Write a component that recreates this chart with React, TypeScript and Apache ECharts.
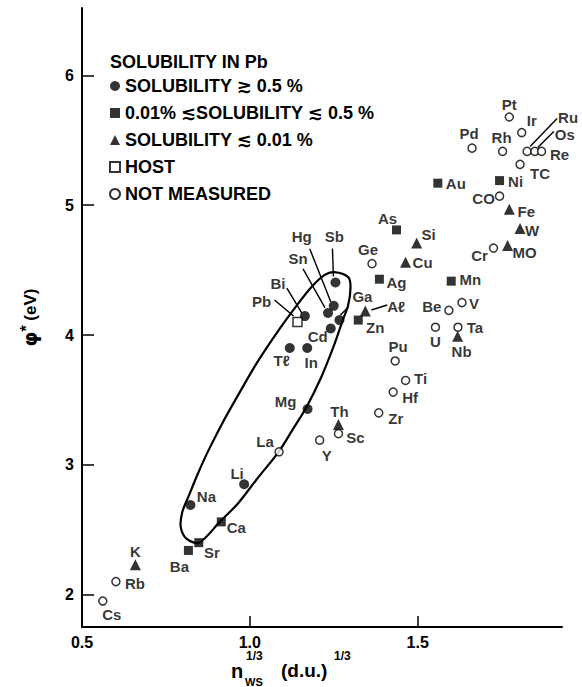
import React, { useEffect, useRef } from "react";
import * as echarts from "echarts";

const FONT = "'Liberation Sans', 'DejaVu Sans', Arial, sans-serif";

// Series names (legend)
const SERIES_NAMES = [
  "SOLUBILITY ≳ 0.5 %",
  "0.01% ≲SOLUBILITY ≲ 0.5 %",
  "SOLUBILITY ≲ 0.01 %",
  "HOST",
  "NOT MEASURED",
];

// Solubility >= 0.5 %  (filled circles)
const HIGH_NAMES = ["Na", "Li", "Mg", "Tℓ", "In", "Cd", "Sn", "Hg", "Sb", "Bi", "Ga"];
const HIGH_X = [0.823, 0.983, 1.172, 1.119, 1.171, 1.241, 1.233, 1.25, 1.255, 1.164, 1.267];
const HIGH_Y = [2.69, 2.85, 3.43, 3.9, 3.9, 4.05, 4.17, 4.225, 4.405, 4.146, 4.115];

// 0.01 % <= solubility <= 0.5 % (filled squares)
const MID_NAMES = ["Ba", "Sr", "Ca", "Zn", "Ag", "As", "Au", "Mn", "Ni"];
const MID_X = [0.817, 0.848, 0.915, 1.323, 1.386, 1.437, 1.56, 1.6, 1.744];
const MID_Y = [2.34, 2.4, 2.56, 4.115, 4.43, 4.81, 5.17, 4.415, 5.19];

// Solubility <= 0.01 % (filled triangles)
const LOW_NAMES = ["K", "Th", "Aℓ", "Cu", "Si", "Nb", "Fe", "W", "MO"];
const LOW_X = [0.659, 1.264, 1.344, 1.464, 1.497, 1.619, 1.773, 1.805, 1.768];
const LOW_Y = [2.23, 3.31, 4.185, 4.56, 4.71, 3.99, 4.97, 4.82, 4.69];

// Host (open square)
const HOST_NAMES = ["Pb"];
const HOST_X = [1.142];
const HOST_Y = [4.1];

// Not measured (open circles)
const NM_NAMES = [
  "Cs", "Rb", "La", "Y", "Sc", "Zr", "Hf", "Ti", "Pu", "U", "Ta", "Be", "V", "Cr",
  "CO", "Ge", "TC", "Pd", "Rh", "Ru", "Os", "Re", "Ir", "Pt",
];
const NM_X = [
  0.562, 0.601, 1.087, 1.208, 1.264, 1.384, 1.427, 1.464, 1.433, 1.553, 1.62, 1.593, 1.632, 1.726,
  1.744, 1.364, 1.805, 1.662, 1.753, 1.826, 1.849, 1.869, 1.81, 1.773,
];
const NM_Y = [
  1.95, 2.1, 3.1, 3.19, 3.24, 3.4, 3.56, 3.65, 3.8, 4.06, 4.06, 4.19, 4.25, 4.67,
  5.07, 4.55, 5.315, 5.44, 5.415, 5.415, 5.415, 5.415, 5.56, 5.68,
];

// Axis ticks
const X_TICKS = [1.0, 1.5];
const X_LABELS = [0.5, 1.0, 1.5];
const Y_TICKS = [2, 3, 4, 5, 6];

// Enclosing curve (annotation, in data units)
const OUTLINE_X = [
  1.2515, 1.293, 1.3, 1.293, 1.277, 1.249, 1.213, 1.169, 1.127, 1.086, 1.024, 0.964, 0.911,
  0.849, 0.811, 0.794, 0.799, 0.818, 0.84, 0.862, 0.882, 0.917, 0.962, 1.021, 1.086, 1.145,
  1.183, 1.222,
];
const OUTLINE_Y = [
  4.485, 4.446, 4.369, 4.231, 4.115, 3.908, 3.677, 3.446, 3.269, 3.1, 2.9, 2.7, 2.562,
  2.4, 2.431, 2.523, 2.638, 2.76, 2.9, 3.03, 3.138, 3.315, 3.523, 3.785, 4.038, 4.246,
  4.369, 4.462,
];

// Label offsets (pixels, label centre relative to marker) - style only
const LABEL_OFFSET: Record<string, [number, number]> = {
  Cs: [9, 13], Rb: [19, 2], K: [0, -13], Ba: [-9, 16], Sr: [13, 10], Ca: [15, 6],
  Na: [16, -9], Li: [-7, -11], La: [-14, -10], Mg: [-22, -7], Y: [7, 15], Th: [1, -13],
  Sc: [17, 4], Zr: [17, 6], Hf: [17, 5], Ti: [15, -2], Pu: [3, -14], U: [0, 14],
  Ta: [17, 0], Nb: [4, 15], Be: [-17, -4], V: [12, 1], Mn: [19, -2], Cr: [-14, 7],
  MO: [17, 7], W: [12, 2], Fe: [17, 2], CO: [-16, 2], Ni: [16, 1], Au: [18, 0],
  TC: [20, 9], Pd: [-3, -15], Rh: [-1, -14], Ir: [10, -12], Pt: [0, -13], Ru: [41, -34],
  Os: [30, -17], Re: [18, 3], As: [-9, -11], Si: [12, -8], Cu: [17, 0], Ge: [-4, -14],
  Ag: [17, 3], "Aℓ": [31, -5], Zn: [17, 7], Ga: [23, -24], Cd: [-13, 8], "Tℓ": [-8, 13],
  In: [4, 15], Pb: [-36, -21], Bi: [-27, -33], Sn: [-30, -54], Hg: [-32, -69], Sb: [-1, -46],
};

// Leader lines (pixel offsets from marker: start x, start y, end x, end y) - style only
const LEADERS: Record<string, [number, number, number, number]> = {
  Pb: [-4, -6, -23, -22],
  Bi: [-3, -3, -18, -28],
  Sn: [-3, -5, -25, -44],
  Hg: [-3, -4, -24, -57],
  Sb: [-2, -6, -3, -34],
  Ga: [1, -5, 9, -13],
  "Aℓ": [6, -1, 22, -6],
  Ru: [3, -5, 30, -33],
  Os: [3, -4, 19, -20],
};

function buildPoints(names: string[], xs: number[], ys: number[]) {
  return names.map((n, i) => ({
    name: n,
    value: [xs[i], ys[i]],
    label: { offset: LABEL_OFFSET[n] || [0, -12] },
  }));
}

export default function App() {
  const ref = useRef<HTMLDivElement>(null);

  useEffect(() => {
    if (!ref.current) return;
    const chart = echarts.init(ref.current, undefined, { renderer: "svg" });

    const all: Record<string, [number, number]> = {};
    const groups: [string[], number[], number[]][] = [
      [HIGH_NAMES, HIGH_X, HIGH_Y],
      [MID_NAMES, MID_X, MID_Y],
      [LOW_NAMES, LOW_X, LOW_Y],
      [HOST_NAMES, HOST_X, HOST_Y],
      [NM_NAMES, NM_X, NM_Y],
    ];
    groups.forEach(([n, xs, ys]) => n.forEach((nm, i) => (all[nm] = [xs[i], ys[i]])));
    const leaderNames = Object.keys(LEADERS);

    const labelStyle = {
      show: true,
      position: "inside",
      formatter: "{b}",
      color: "#000",
      fontSize: 15,
      fontWeight: "bold",
      fontFamily: FONT,
      textBorderWidth: 0,
    };

    const filled = { color: "#000" };
    const open = { color: "#fff", borderColor: "#000", borderWidth: 1.5 };

    const option: any = {
      animation: false,
      backgroundColor: "#fff",
      title: {
        text: "SOLUBILITY IN Pb",
        left: 110,
        top: 53,
        padding: 0,
        textStyle: { fontSize: 18, fontWeight: "bold", fontFamily: FONT, color: "#000" },
      },
      legend: {
        orient: "vertical",
        left: 109,
        top: 77,
        padding: 0,
        itemWidth: 10,
        itemHeight: 10,
        itemGap: 9,
        data: SERIES_NAMES,
        textStyle: { fontSize: 18, fontWeight: "bold", fontFamily: FONT, color: "#000" },
      },
      grid: { left: 82, right: 20, top: 8, bottom: 60, containLabel: false },
      xAxis: {
        type: "value",
        min: 0.5,
        max: 1.93,
        splitLine: { show: false },
        axisLine: { show: true, lineStyle: { color: "#000", width: 2 } },
        axisTick: {
          show: true,
          inside: true,
          length: 11,
          customValues: X_TICKS,
          lineStyle: { color: "#000", width: 1.5 },
        },
        axisLabel: {
          customValues: X_LABELS,
          formatter: (v: number) => v.toFixed(1),
          fontSize: 16,
          fontWeight: "bold",
          fontFamily: FONT,
          color: "#000",
          margin: 7,
        },
      },
      yAxis: {
        type: "value",
        min: 1.75,
        max: 6.52,
        splitLine: { show: false },
        axisLine: { show: true, lineStyle: { color: "#000", width: 2 } },
        axisTick: {
          show: true,
          inside: true,
          length: 12,
          customValues: Y_TICKS,
          lineStyle: { color: "#000", width: 1.5 },
        },
        axisLabel: {
          customValues: Y_TICKS,
          formatter: (v: number) => String(v),
          fontSize: 16,
          fontWeight: "bold",
          fontFamily: FONT,
          color: "#000",
          margin: 8,
        },
        name: "{a|φ}{b|*} (eV)",
        nameLocation: "middle",
        nameGap: 40,
        nameTextStyle: {
          fontSize: 17,
          fontWeight: "bold",
          fontFamily: FONT,
          color: "#000",
          rich: {
            a: { fontSize: 19, fontWeight: "bold", fontFamily: "'DejaVu Sans', sans-serif", color: "#000" },
            b: { fontSize: 16, fontWeight: "bold", fontFamily: FONT, color: "#000", verticalAlign: "top", padding: [0, 0, 8, 0] },
          },
        },
      },
      graphic: [
        { type: "text", left: 231, top: 661, style: { text: "n", font: `bold 20px ${FONT}`, fill: "#000" } },
        { type: "text", left: 246, top: 650, style: { text: "1/3", font: `bold 12px ${FONT}`, fill: "#000" } },
        { type: "text", left: 245, top: 676, style: { text: "WS", font: `bold 11px ${FONT}`, fill: "#000" } },
        { type: "text", left: 281, top: 661, style: { text: "(d.u.)", font: `bold 19px ${FONT}`, fill: "#000" } },
        { type: "text", left: 334, top: 650, style: { text: "1/3", font: `bold 12px ${FONT}`, fill: "#000" } },
      ],
      series: [
        {
          name: "outline",
          type: "custom",
          silent: true,
          z: 1,
          data: [[OUTLINE_X[0], OUTLINE_Y[0]]],
          renderItem: (_p: any, api: any) => {
            const points = OUTLINE_X.map((x, i) => api.coord([x, OUTLINE_Y[i]]));
            return {
              type: "polygon",
              shape: { points, smooth: 0.3 },
              style: { fill: "none", stroke: "#000", lineWidth: 2.2 },
            };
          },
        },
        {
          name: "leaders",
          type: "custom",
          silent: true,
          z: 1,
          data: leaderNames.map((n) => all[n]),
          renderItem: (params: any, api: any) => {
            const o = LEADERS[leaderNames[params.dataIndex]];
            const p = api.coord([api.value(0), api.value(1)]);
            return {
              type: "line",
              shape: { x1: p[0] + o[0], y1: p[1] + o[1], x2: p[0] + o[2], y2: p[1] + o[3] },
              style: { stroke: "#000", lineWidth: 1.4 },
            };
          },
        },
        {
          name: SERIES_NAMES[0],
          type: "scatter",
          symbol: "circle",
          symbolSize: 10,
          itemStyle: filled,
          label: labelStyle,
          z: 3,
          data: buildPoints(HIGH_NAMES, HIGH_X, HIGH_Y),
        },
        {
          name: SERIES_NAMES[1],
          type: "scatter",
          symbol: "rect",
          symbolSize: 9,
          itemStyle: filled,
          label: labelStyle,
          z: 3,
          data: buildPoints(MID_NAMES, MID_X, MID_Y),
        },
        {
          name: SERIES_NAMES[2],
          type: "scatter",
          symbol: "triangle",
          symbolSize: 11,
          itemStyle: filled,
          label: labelStyle,
          z: 3,
          data: buildPoints(LOW_NAMES, LOW_X, LOW_Y),
        },
        {
          name: SERIES_NAMES[3],
          type: "scatter",
          symbol: "rect",
          symbolSize: 9,
          itemStyle: open,
          label: labelStyle,
          z: 3,
          data: buildPoints(HOST_NAMES, HOST_X, HOST_Y),
        },
        {
          name: SERIES_NAMES[4],
          type: "scatter",
          symbol: "circle",
          symbolSize: 8,
          itemStyle: open,
          label: labelStyle,
          z: 3,
          data: buildPoints(NM_NAMES, NM_X, NM_Y),
        },
      ],
    };

    chart.setOption(option);
    return () => chart.dispose();
  }, []);

  return (
    <div
      ref={ref}
      style={{ position: "absolute", left: 0, top: 0, width: 582, height: 687, background: "#fff" }}
    />
  );
}
